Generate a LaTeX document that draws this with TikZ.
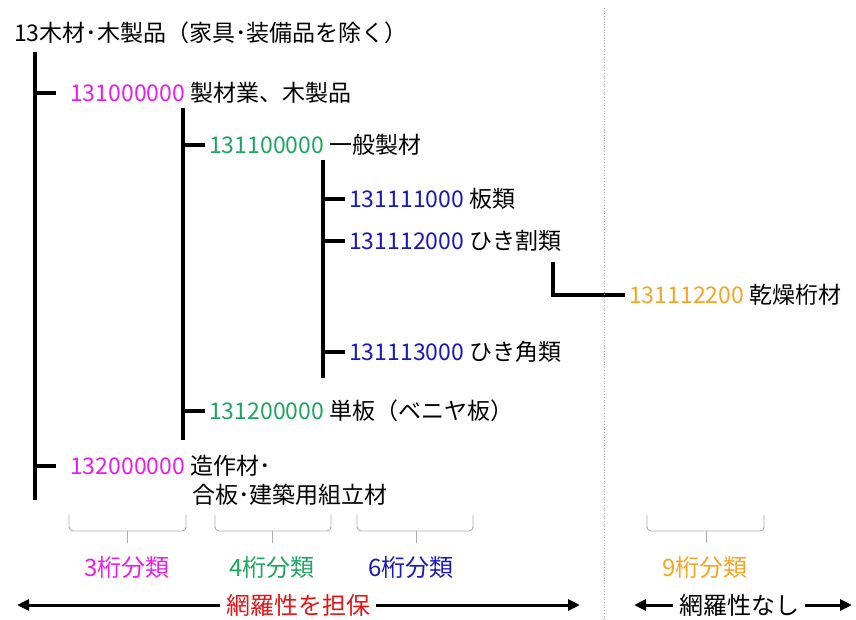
\documentclass[tikz,border=0pt]{standalone}
\usepackage{fontspec}
\setmainfont{Noto Sans CJK JP}
\usetikzlibrary{positioning,arrows.meta}

\definecolor{digmag}{RGB}{232,30,232}
\definecolor{diggreen}{RGB}{30,165,95}
\definecolor{digblue}{RGB}{25,25,185}
\definecolor{digorange}{RGB}{245,165,35}
\definecolor{keepred}{RGB}{232,20,20}

\tikzset{
  entry/.style={anchor=west, inner ysep=0pt, inner xsep=4pt, font=\fontsize{23}{27}\selectfont},
  tag/.style={inner sep=0pt, font=\fontsize{24}{28}\selectfont},
  branch/.style={line width=3.2pt},
  bracket/.style={draw=gray!65, line width=0.9pt, rounded corners=4pt},
  span/.style={line width=3pt, -{Triangle[length=12pt,width=11pt]}}
}

\begin{document}
\begin{tikzpicture}[x=1pt, y=-1pt]
  \useasboundingbox (0,0) rectangle (856,619);

  % tree entries
  \node[entry, inner xsep=0pt] (c13) at (14,33) {13木材･木製品（家具･装備品を除く）};
  \node[entry, inner xsep=14pt] (c131) at (56,93) {{\color{digmag}131000000} 製材業、木製品};
  \node[entry] (c1311) at (205,145) {{\color{diggreen}131100000} 一般製材};
  \node[entry] (c131111) at (345,199) {{\color{digblue}131111000} 板類};
  \node[entry] (c131112) at (345,241) {{\color{digblue}131112000} ひき割類};
  \node[entry] (c1311122) at (625,295) {{\color{digorange}131112200} 乾燥桁材};
  \node[entry] (c131113) at (345,352) {{\color{digblue}131113000} ひき角類};
  \node[entry] (c1312) at (205,411) {{\color{diggreen}131200000} 単板（ベニヤ板）};
  \node[entry, inner xsep=14pt] (c132) at (56,466) {{\color{digmag}132000000} 造作材･};
  \node[entry, inner xsep=0pt] (c132b) at (192,495) {合板･建築用組立材};

  % trunk lines
  \coordinate (t1) at (35,52);
  \coordinate (b1) at (35,500);
  \coordinate (t2) at (183,108);
  \coordinate (b2) at (183,440);
  \coordinate (t3) at (323,160);
  \coordinate (b3) at (323,378);
  \coordinate (t4) at (553,262);

  \draw[branch] (t1) -- (b1);
  \draw[branch] (t1 |- c131.west) -- (c131.west);
  \draw[branch] (t1 |- c132.west) -- (c132.west);

  \draw[branch] (t2) -- (b2);
  \draw[branch] (t2 |- c1311.west) -- (c1311.west);
  \draw[branch] (t2 |- c1312.west) -- (c1312.west);

  \draw[branch] (t3) -- (b3);
  \draw[branch] (t3 |- c131111.west) -- (c131111.west);
  \draw[branch] (t3 |- c131112.west) -- (c131112.west);
  \draw[branch] (t3 |- c131113.west) -- (c131113.west);

  \draw[branch] (t4) -- (t4 |- c1311122.west) -- (c1311122.west);

  % divider
  \coordinate (divtop) at (604,8);
  \coordinate (divbot) at (604,619);
  \draw[gray!70, line width=0.7pt, dotted] (divtop) -- (divbot);

  % digit groups
  \node[tag, text=digmag] (d3) at (127,567) {3桁分類};
  \node[tag, text=diggreen] (d4) at (272,567) {4桁分類};
  \node[tag, text=digblue] (d6) at (411,567) {6桁分類};
  \node[tag, text=digorange] (d9) at (705,567) {9桁分類};

  \draw[bracket] (69,515) -- (69,531) -- (186,531) -- (186,515);
  \draw[bracket] (127,531) -- (127,543);
  \draw[bracket] (215,515) -- (215,531) -- (331,531) -- (331,515);
  \draw[bracket] (272,531) -- (272,543);
  \draw[bracket] (357,515) -- (357,531) -- (473,531) -- (473,515);
  \draw[bracket] (416,531) -- (416,543);
  \draw[bracket] (647,515) -- (647,531) -- (764,531) -- (764,515);
  \draw[bracket] (706,531) -- (706,543);

  % coverage
  \node[tag, text=keepred, inner xsep=6pt] (keep) at (298,605) {網羅性を担保};
  \node[tag, inner xsep=6pt] (nokeep) at (739,605) {網羅性なし};
  \coordinate (kl) at (17,605);
  \coordinate (kr) at (580,605);
  \coordinate (nl) at (634,605);
  \coordinate (nr) at (852,605);
  \draw[span] (keep.west) -- (kl);
  \draw[span] (keep.east) -- (kr);
  \draw[span] (nokeep.west) -- (nl);
  \draw[span] (nokeep.east) -- (nr);
\end{tikzpicture}
\end{document}
